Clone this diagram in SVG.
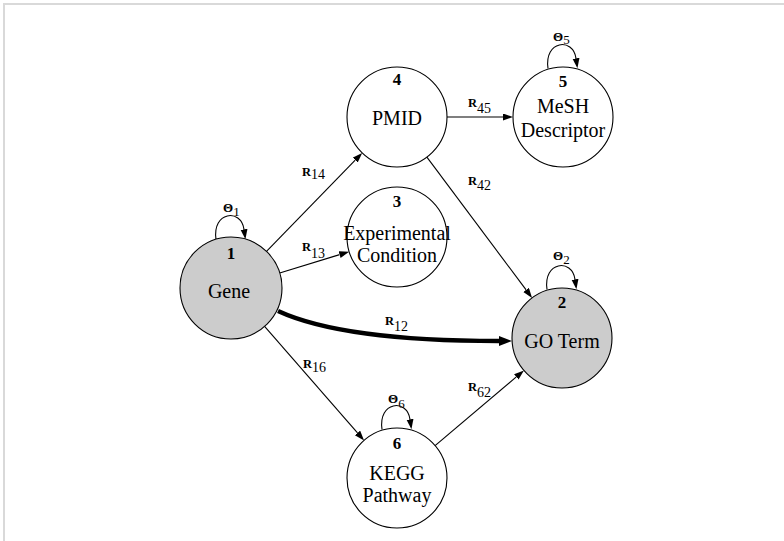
<svg xmlns="http://www.w3.org/2000/svg" xmlns:xlink="http://www.w3.org/1999/xlink" width="784" height="541" viewBox="0 0 784 541">
  <style>
    text { font-family: "Liberation Serif", Tinos, "Times New Roman", Times, serif; fill: #000; }
    .node { stroke: #000; stroke-width: 1.1; }
    .plain { fill: #fff; }
    .shaded { fill: #cccccc; }
    .num { font-weight: bold; font-size: 17px; text-anchor: middle; }
    .lbl { font-size: 20px; text-anchor: middle; }
    .edge { fill: none; stroke: #000; stroke-width: 1.1; marker-end: url(#arrow); }
    .heavy { fill: none; stroke: #000; stroke-width: 4.5; marker-end: url(#arrowBig); }
    .elbl { font-size: 14px; }
    .sym { font-weight: bold; font-size: 12.5px; }
    .theta { font-size: 13px; }
    .frame { stroke: #d9d9d9; stroke-width: 2; }
  </style>
  <defs>
    <marker id="arrow" markerUnits="userSpaceOnUse" markerWidth="11" markerHeight="8" refX="0" refY="3.5" orient="auto">
      <path d="M0,0 L10,3.5 L0,7 z" fill="#000"/>
    </marker>
    <marker id="arrowBig" markerUnits="userSpaceOnUse" markerWidth="14" markerHeight="11" refX="0" refY="5" orient="auto">
      <path d="M0,0 L13,5 L0,10 z" fill="#000"/>
    </marker>
    <!-- self-loop sitting on top of a node, origin at the node's top -->
    <path id="loop" d="M-15,0 C-19,-28 10,-31 13,-10" class="edge"/>
  </defs>

  <rect width="784" height="541" fill="#fff"/>
  <line class="frame" x1="3" y1="4" x2="784" y2="4"/>
  <line class="frame" x1="4" y1="3" x2="4" y2="541"/>

  <g id="connectors">
    <path id="e14" class="edge" d="M266.5,251.4 L355.2,160.1"/>
    <path id="e13" class="edge" d="M279.7,273 L339.6,254.6"/>
    <path id="e16" class="edge" d="M264.6,326.4 L357.5,432.9"/>
    <path id="e62" class="edge" d="M435.1,445.6 L516.3,376.9"/>
    <path id="e45" class="edge" d="M447,117 L503,117"/>
    <path id="e42" class="edge" d="M426.9,157.1 L526.1,289.9"/>
    <path id="e12" class="heavy" d="M278,311 C330,335 420,341 499,341"/>
    <use id="l1" xlink:href="#loop" transform="translate(231,239.3)"/>
    <use id="l5" xlink:href="#loop" transform="translate(563,68.3)"/>
    <use id="l2" xlink:href="#loop" transform="translate(562,289.3)"/>
    <use id="l6" xlink:href="#loop" transform="translate(397,429.3)"/>

    <text class="elbl" x="302" y="176"><tspan class="sym">R</tspan><tspan dy="3">14</tspan></text>
    <text class="elbl" x="302" y="251"><tspan class="sym">R</tspan><tspan dy="7">13</tspan></text>
    <text class="elbl" x="385" y="325"><tspan class="sym">R</tspan><tspan dy="6">12</tspan></text>
    <text class="elbl" x="303" y="368"><tspan class="sym">R</tspan><tspan dy="4">16</tspan></text>
    <text class="elbl" x="468" y="391"><tspan class="sym">R</tspan><tspan dy="6">62</tspan></text>
    <text class="elbl" x="468" y="107"><tspan class="sym">R</tspan><tspan dy="6">45</tspan></text>
    <text class="elbl" x="468" y="185"><tspan class="sym">R</tspan><tspan dy="5">42</tspan></text>

    <text class="theta" x="223" y="212"><tspan font-weight="bold">Θ</tspan><tspan dy="4">1</tspan></text>
    <text class="theta" x="553" y="41"><tspan font-weight="bold">Θ</tspan><tspan dy="3">5</tspan></text>
    <text class="theta" x="553" y="260"><tspan font-weight="bold">Θ</tspan><tspan dy="4">2</tspan></text>
    <text class="theta" x="388" y="403"><tspan font-weight="bold">Θ</tspan><tspan dy="5">6</tspan></text>
  </g>

  <g id="n1">
    <circle class="node shaded" cx="231" cy="288" r="51"/>
    <text class="num" x="231" y="259">1</text>
    <text class="lbl" x="229" y="298" font-size="22">Gene</text>
  </g>
  <g id="n4">
    <circle class="node plain" cx="397" cy="117" r="50"/>
    <text class="num" x="397" y="85">4</text>
    <text class="lbl" x="397" y="125">PMID</text>
  </g>
  <g id="n3">
    <circle class="node plain" cx="397" cy="237" r="50"/>
    <text class="num" x="397" y="207">3</text>
    <text class="lbl" x="397" y="240" font-size="18">Experimental</text>
    <text class="lbl" x="397" y="262" font-size="18">Condition</text>
  </g>
  <g id="n5">
    <circle class="node plain" cx="563" cy="117" r="50"/>
    <text class="num" x="563" y="87">5</text>
    <text class="lbl" x="563" y="113">MeSH</text>
    <text class="lbl" x="563" y="137">Descriptor</text>
  </g>
  <g id="n2">
    <circle class="node shaded" cx="562" cy="338" r="50"/>
    <text class="num" x="562" y="308">2</text>
    <text class="lbl" x="562" y="348">GO Term</text>
  </g>
  <g id="n6">
    <circle class="node plain" cx="397" cy="478" r="50"/>
    <text class="num" x="397" y="449">6</text>
    <text class="lbl" x="397" y="480">KEGG</text>
    <text class="lbl" x="397" y="502">Pathway</text>
  </g>
</svg>
